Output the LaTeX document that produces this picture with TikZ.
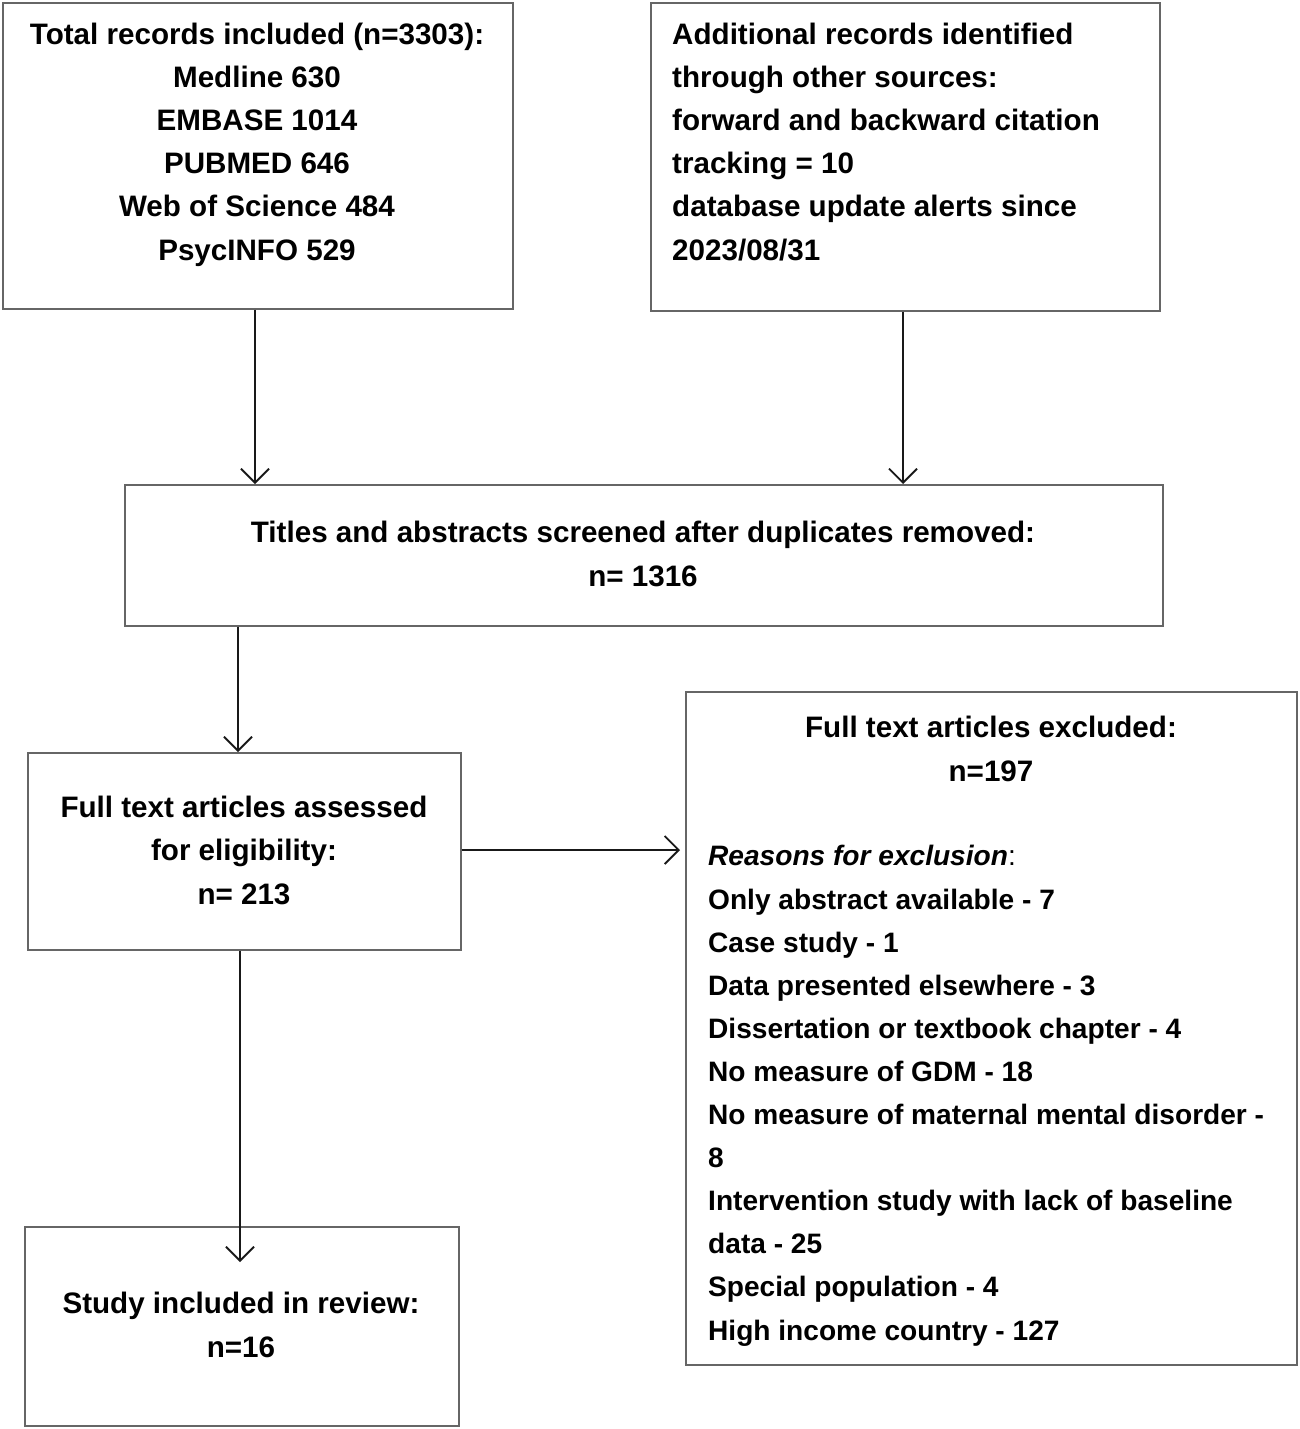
\documentclass[tikz,border=0pt]{standalone}
\usepackage{fontspec}
\setmainfont{Liberation Sans}
\usetikzlibrary{arrows.meta}
\begin{document}
\begin{tikzpicture}[x=1pt,y=-1pt,
  box/.style={draw=black!60, line width=1.6pt, anchor=north west, inner sep=0pt},
  txt/.style={inner sep=0pt, font=\fontsize{29.6}{43.1}\selectfont\bfseries},
  smalltxt/.style={inner sep=0pt, font=\fontsize{28.1}{43.1}\selectfont\bfseries},
  conn/.style={draw=black!90, line width=1.8pt, -{Straight Barb[length=14pt,width=28pt,line width=1.8pt]}}
]
\useasboundingbox (0,0) rectangle (1299,1429);
% boxes
\node[box, minimum width=510pt, minimum height=306pt] (A) at (2,2) {};
\node[box, minimum width=509pt, minimum height=308pt] (B) at (650,2) {};
\node[box, minimum width=1038pt, minimum height=141pt] (C) at (124,484) {};
\node[box, minimum width=433pt, minimum height=197pt] (D) at (27,752) {};
\node[box, minimum width=611pt, minimum height=673pt] (E) at (685,691) {};
\node[box, minimum width=434pt, minimum height=199pt] (F) at (24,1226) {};
% texts (base anchor = baseline of last line)
\node[txt, align=center, anchor=base] (tA) at (257,260) {Total records included (n=3303):\\Medline 630\\EMBASE 1014\\PUBMED 646\\Web of Science 484\\PsycINFO 529};
\node[txt, align=left, anchor=base west] (tB) at (672,260) {Additional records identified\\through other sources:\\forward and backward citation\\tracking = 10\\database update alerts since\\2023/08/31};
\node[txt, align=center, anchor=base] (tC) at (643,586) {Titles and abstracts screened after duplicates removed:\\n= 1316};
\node[txt, align=center, anchor=base] (tD) at (244,904) {Full text articles assessed\\for eligibility:\\n= 213};
\node[txt, align=center, anchor=base] (tE) at (991,781) {Full text articles excluded:\\n=197};
\node[smalltxt, align=left, anchor=base west] (tE2) at (708,1340) {\textit{Reasons for exclusion}\textmd{:}\\Only abstract available - 7\\Case study - 1\\Data presented elsewhere - 3\\Dissertation or textbook chapter - 4\\No measure of GDM - 18\\No measure of maternal mental disorder -\\8\\Intervention study with lack of baseline\\data - 25\\Special population - 4\\High income country - 127};
\node[txt, align=center, anchor=base] (tF) at (241,1357) {Study included in review:\\n=16};
% connectors
\coordinate (fEnd) at (240,1262);
\draw[conn] (A.south -| 255,0) -- (C.north -| 255,0);
\draw[conn] (B.south -| 903,0) -- (C.north -| 903,0);
\draw[conn] (C.south -| 238,0) -- (D.north -| 238,0);
\draw[conn, shorten >=5pt] (D.east |- 0,850) -- (E.west |- 0,850);
\draw[conn] (D.south -| 240,0) -- (fEnd);
\end{tikzpicture}
\end{document}
